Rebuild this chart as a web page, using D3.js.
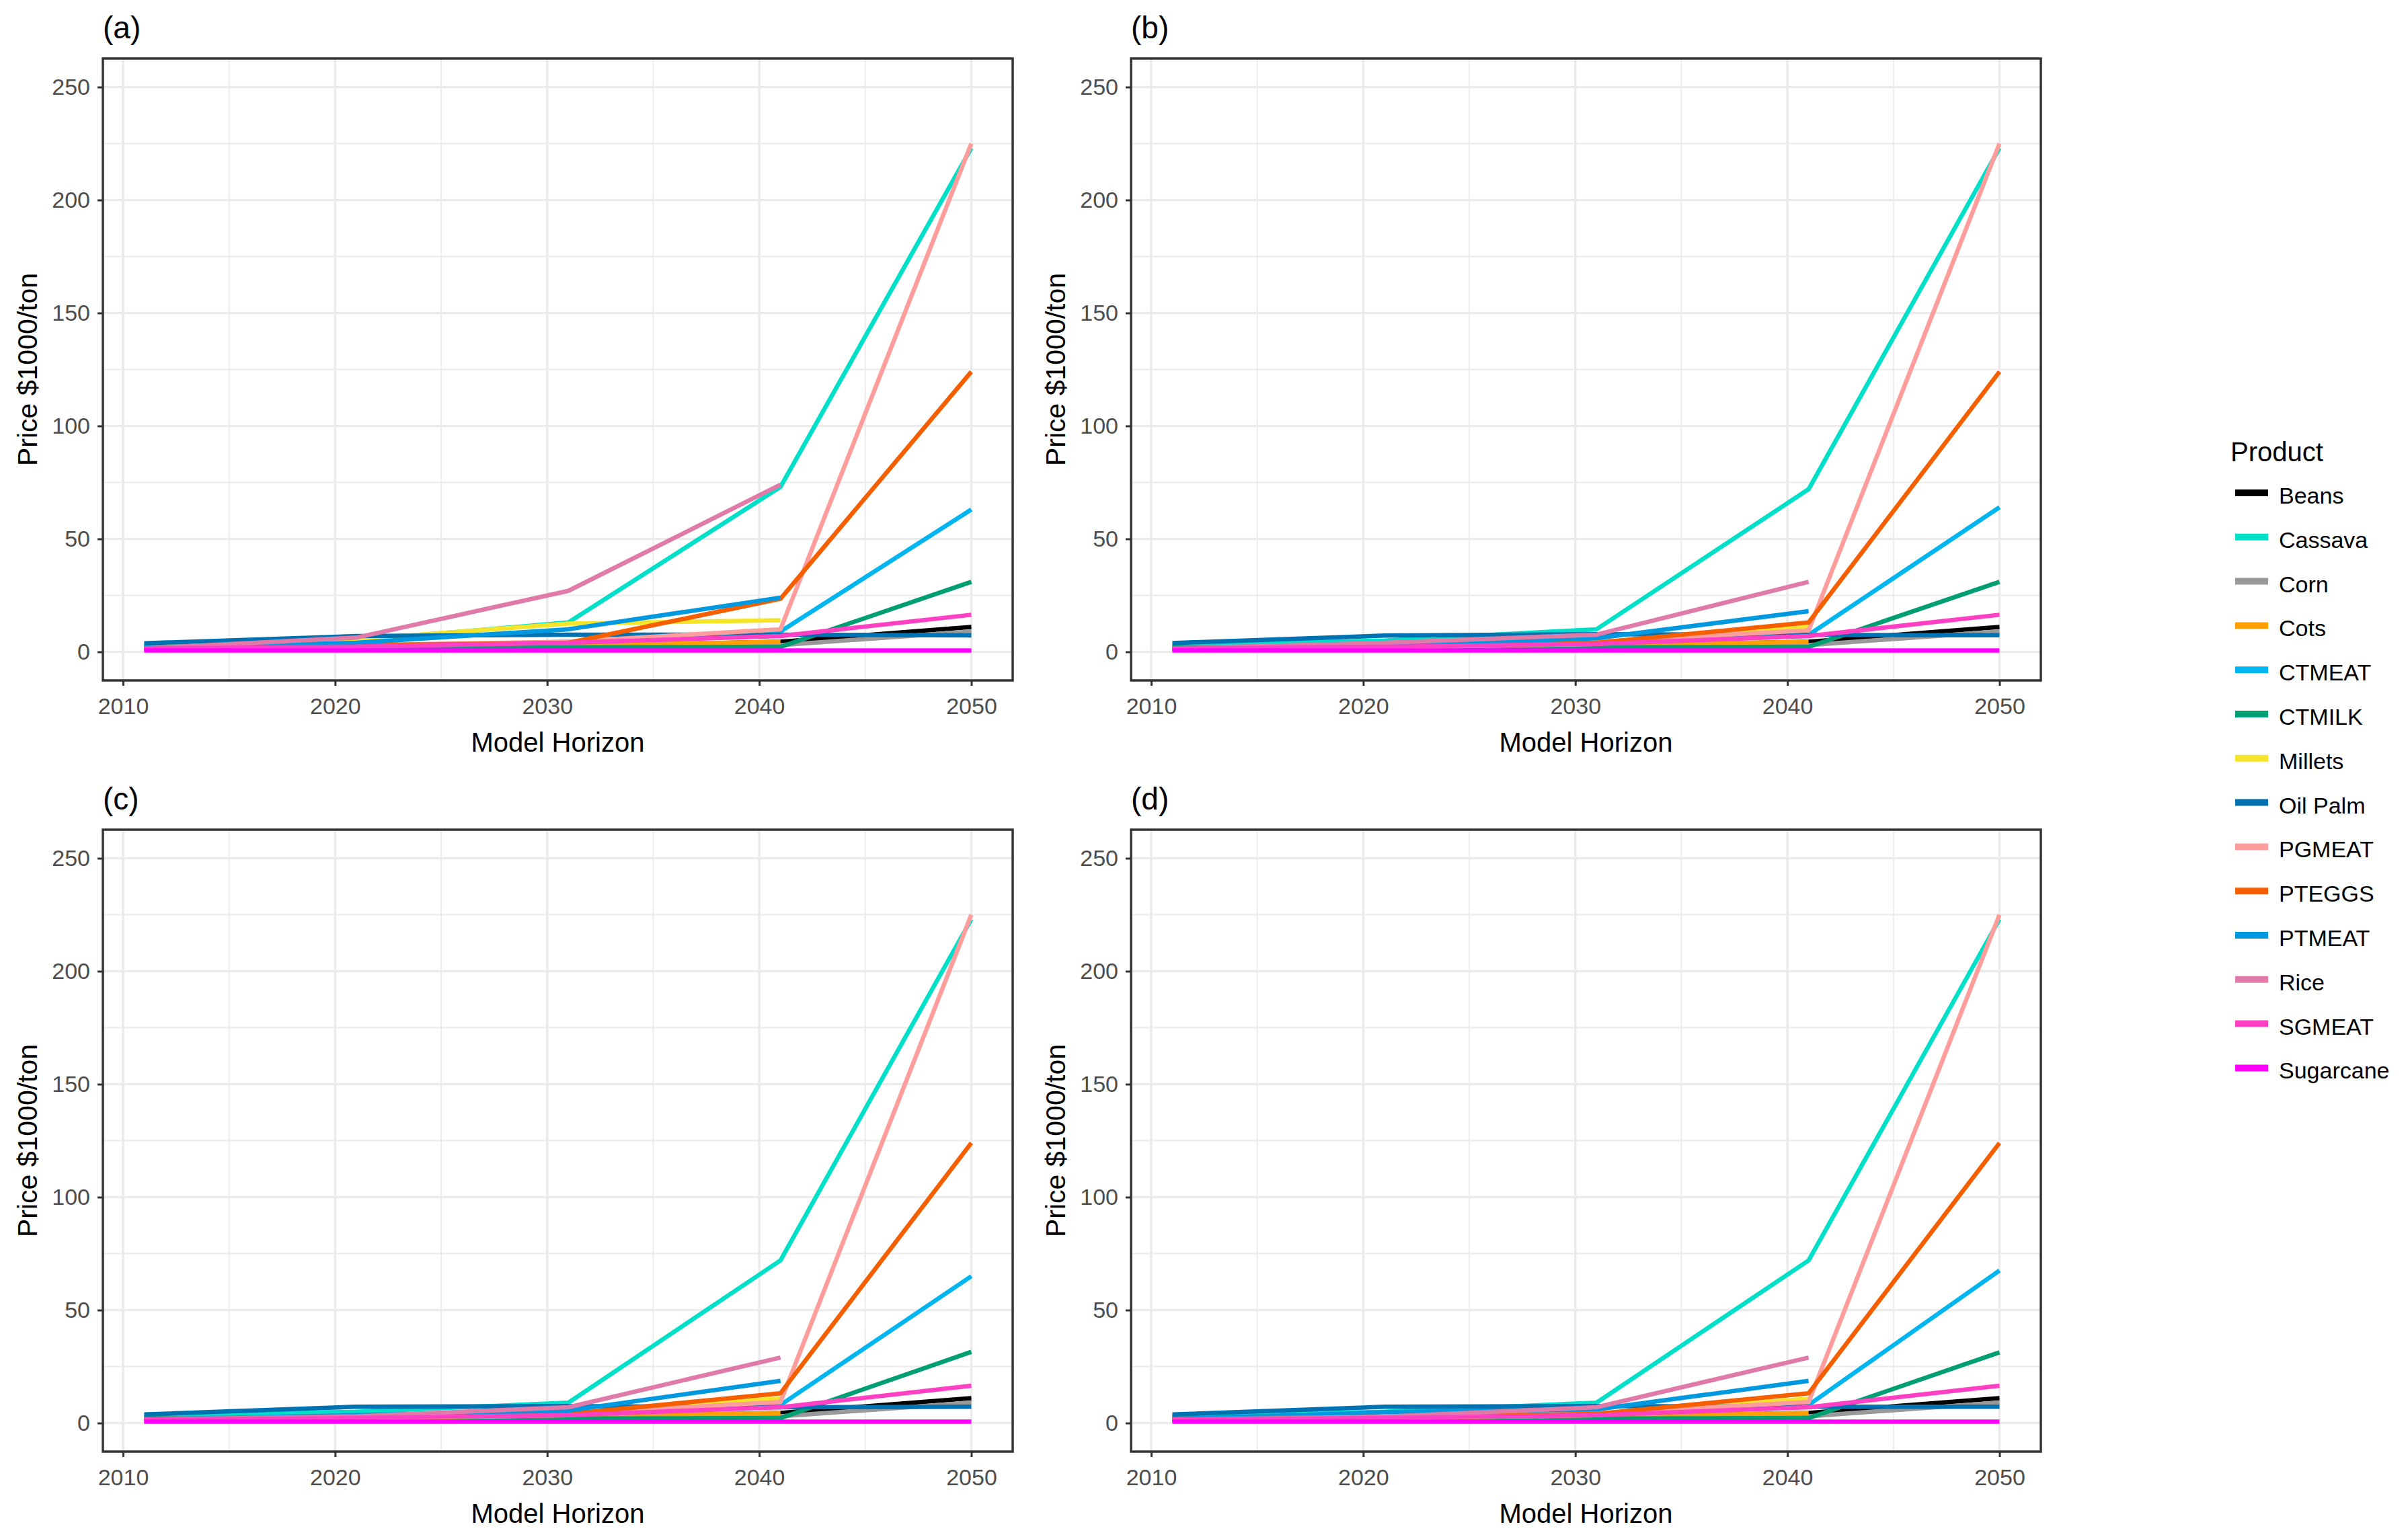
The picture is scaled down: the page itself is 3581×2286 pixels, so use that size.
<!DOCTYPE html>
<html>
<head>
<meta charset="utf-8">
<script src="https://cdnjs.cloudflare.com/ajax/libs/d3/7.8.5/d3.min.js"></script>
<style>
body{margin:0;background:#fff}
text{font-family:"Liberation Sans",Arial,sans-serif}
</style>
</head>
<body>
<script>
// data
var years = [2011, 2021, 2031, 2041, 2050]
var products = ["Beans","Cassava","Corn","Cots","CTMEAT","CTMILK","Millets","Oil Palm","PGMEAT","PTEGGS","PTMEAT","Rice","SGMEAT","Sugarcane"]
var colors = ["#000000","#00E0C8","#999999","#FFA000","#00B5F0","#009E73","#F5E52A","#0072B2","#FF9D9D","#F55F00","#0099E0","#E07BA9","#FF40C4","#FF00FF"]
var panelLabels = ["(a)","(b)","(c)","(d)"]
var xTicks = [2010, 2020, 2030, 2040, 2050]
var yTicks = [0, 50, 100, 150, 200, 250]

// one row per product, order as in products; null = no value that year
var panelA = [
    [1.5, 2, 2.5, 4.5, 11],
    [3, 5, 13, 73, 223],
    [2, 2.5, 3, 3, 9],
    [1, 1.8, 2.8, 4.5, null],
    [1.5, 2.2, 4.5, 9, 63],
    [2, 2, 2, 2.2, 31],
    [2, 5.5, 12.5, 14, null],
    [3.8, 7, 7.6, 7.6, 7.3],
    [1.5, 3, 4.5, 10, 225],
    [1.5, 3, 4, 23.5, 124],
    [2, 4, 10, 24, null],
    [1.5, 6.3, 27, 74, null],
    [1.5, 2.3, 4, 7, 16.4],
    [0.6, 0.6, 0.6, 0.6, 0.6]
]
var panelB = [
    [1.5, 2, 2.5, 4.5, 11],
    [3, 5, 10, 72, 223],
    [2, 2.5, 3, 3, 9],
    [1, 1.8, 2.8, 4.5, null],
    [1.5, 2.2, 4, 7.5, 64],
    [2, 2, 2, 2.2, 31],
    [1.5, 2, 3.5, 11, null],
    [3.9, 7.2, 7.8, 7.5, 7.4],
    [1.5, 2.5, 4.5, 9.5, 225],
    [1.5, 2.8, 4, 13, 124],
    [1.5, 3, 6, 18, null],
    [1.5, 4, 7.6, 31, null],
    [1.5, 2.2, 3.5, 7, 16.4],
    [0.6, 0.6, 0.6, 0.6, 0.6]
]
var panelC = [
    [1.5, 2, 2.5, 4.5, 11],
    [3, 5, 9, 72, 223],
    [2, 2.5, 3, 3, 9],
    [1, 1.8, 2.8, 4.5, null],
    [1.5, 2.2, 4, 8, 65],
    [2, 2, 2, 2.2, 31.5],
    [1.5, 2, 3.5, 11, null],
    [3.8, 7.2, 7.5, 7, 7.2],
    [1.5, 2.5, 4.3, 9.3, 225],
    [1.5, 2.5, 4, 13.2, 124],
    [1.5, 3.5, 5.5, 18.7, null],
    [1.5, 3, 7, 29, null],
    [1.5, 2.2, 3.5, 7, 16.5],
    [0.6, 0.6, 0.6, 0.6, 0.6]
]
var panelD = [
    [1.5, 2, 2.5, 4.5, 11],
    [3, 5, 9, 72, 223],
    [2, 2.5, 3, 3, 9],
    [1, 1.8, 2.8, 4.5, null],
    [1.5, 2.2, 4, 8, 67.5],
    [2, 2, 2, 2.2, 31.3],
    [1.5, 2, 3.5, 10.8, null],
    [3.8, 7.2, 7.5, 7.2, 7.2],
    [1.5, 2.5, 4.3, 9.3, 225],
    [1.5, 2.8, 4, 13.2, 124],
    [1.8, 4.8, 6, 18.7, null],
    [1.5, 2.8, 7, 29, null],
    [1.5, 2.2, 3.5, 7, 16.5],
    [0.6, 0.6, 0.6, 0.6, 0.6]
]
var panels = [panelA, panelB, panelC, panelD]

var W = 3581, H = 2286
var pw = 1353, ph = 925
var origins = [[153,87],[1682,87],[153,1234],[1682,1234]]

var svg = d3.select("body").append("svg").attr("width",W).attr("height",H)

var x = d3.scaleLinear().domain([2009.05, 2051.95]).range([0, pw])
var y = d3.scaleLinear().domain([-12.65, 262.65]).range([ph, 0])

var line = d3.line()
    .defined(function(d){return d.v!==null})
    .x(function(d){return x(d.year)})
    .y(function(d){return y(d.v)})

panels.forEach(function(vals, p){
    var g = svg.append("g").attr("transform","translate("+origins[p][0]+","+origins[p][1]+")")

    // grid, minor then major
    var xMinor = [2015, 2025, 2035, 2045], yMinor = [25, 75, 125, 175, 225]
    g.selectAll(".xmin").data(xMinor).enter().append("line")
        .attr("x1",function(d){return x(d)}).attr("x2",function(d){return x(d)})
        .attr("y1",0).attr("y2",ph)
        .style("stroke","#EBEBEB").style("stroke-width",1.8)
    g.selectAll(".ymin").data(yMinor).enter().append("line")
        .attr("y1",function(d){return y(d)}).attr("y2",function(d){return y(d)})
        .attr("x1",0).attr("x2",pw)
        .style("stroke","#EBEBEB").style("stroke-width",1.8)
    g.selectAll(".xmaj").data(xTicks).enter().append("line")
        .attr("x1",function(d){return x(d)}).attr("x2",function(d){return x(d)})
        .attr("y1",0).attr("y2",ph)
        .style("stroke","#EBEBEB").style("stroke-width",3.5)
    g.selectAll(".ymaj").data(yTicks).enter().append("line")
        .attr("y1",function(d){return y(d)}).attr("y2",function(d){return y(d)})
        .attr("x1",0).attr("x2",pw)
        .style("stroke","#EBEBEB").style("stroke-width",3.5)

    // series
    vals.forEach(function(row, i){
        var pts = years.map(function(yr, k){return {year:yr, v:row[k]}})
        g.append("path").datum(pts)
            .attr("d", line)
            .style("fill","none")
            .style("stroke", colors[i])
            .style("stroke-width", 6.5)
            .style("stroke-linejoin","round")
    })

    // border
    g.append("rect").attr("x",0).attr("y",0).attr("width",pw).attr("height",ph)
        .style("fill","none").style("stroke","#333333").style("stroke-width",3.5)

    // axes
    var ax = g.append("g").attr("transform","translate(0,"+ph+")")
        .call(d3.axisBottom(x).tickValues(xTicks).tickFormat(d3.format("d")).tickSize(8).tickPadding(18))
    var ay = g.append("g")
        .call(d3.axisLeft(y).tickValues(yTicks).tickSize(8).tickPadding(11))
    ;[ax, ay].forEach(function(a){
        a.select(".domain").remove()
        a.selectAll(".tick line").style("stroke","#333333").style("stroke-width",3)
        a.selectAll(".tick text").style("fill","#4D4D4D").style("font-size","34px")
            .style("font-family","'Liberation Sans',Arial,sans-serif")
    })

    g.append("text").text("Model Horizon")
        .attr("x",pw/2).attr("y",ph+106)
        .attr("text-anchor","middle")
        .style("font-size","40px").style("fill","#000")
    g.append("text").text("Price $1000/ton")
        .attr("transform","translate(-98,"+(ph/2)+") rotate(-90)")
        .attr("text-anchor","middle")
        .style("font-size","41px").style("fill","#000")
    g.append("text").text(panelLabels[p])
        .attr("x",0).attr("y",-30)
        .style("font-size","46px").style("fill","#000")
})

// legend
var leg = svg.append("g")
leg.append("text").text("Product").attr("x",3317).attr("y",686)
    .style("font-size","40px").style("fill","#000")
var items = leg.selectAll(".item").data(products).enter().append("g")
    .attr("transform",function(d,i){return "translate(0,"+(733+i*65.8)+")"})
items.append("line").attr("x1",3324).attr("x2",3373).attr("y1",0).attr("y2",0)
    .style("stroke",function(d,i){return colors[i]}).style("stroke-width",10)
items.append("text").text(function(d){return d})
    .attr("x",3389).attr("y",4)
    .attr("dominant-baseline","central")
    .style("font-size","34px").style("fill","#000")
</script>
</body>
</html>
